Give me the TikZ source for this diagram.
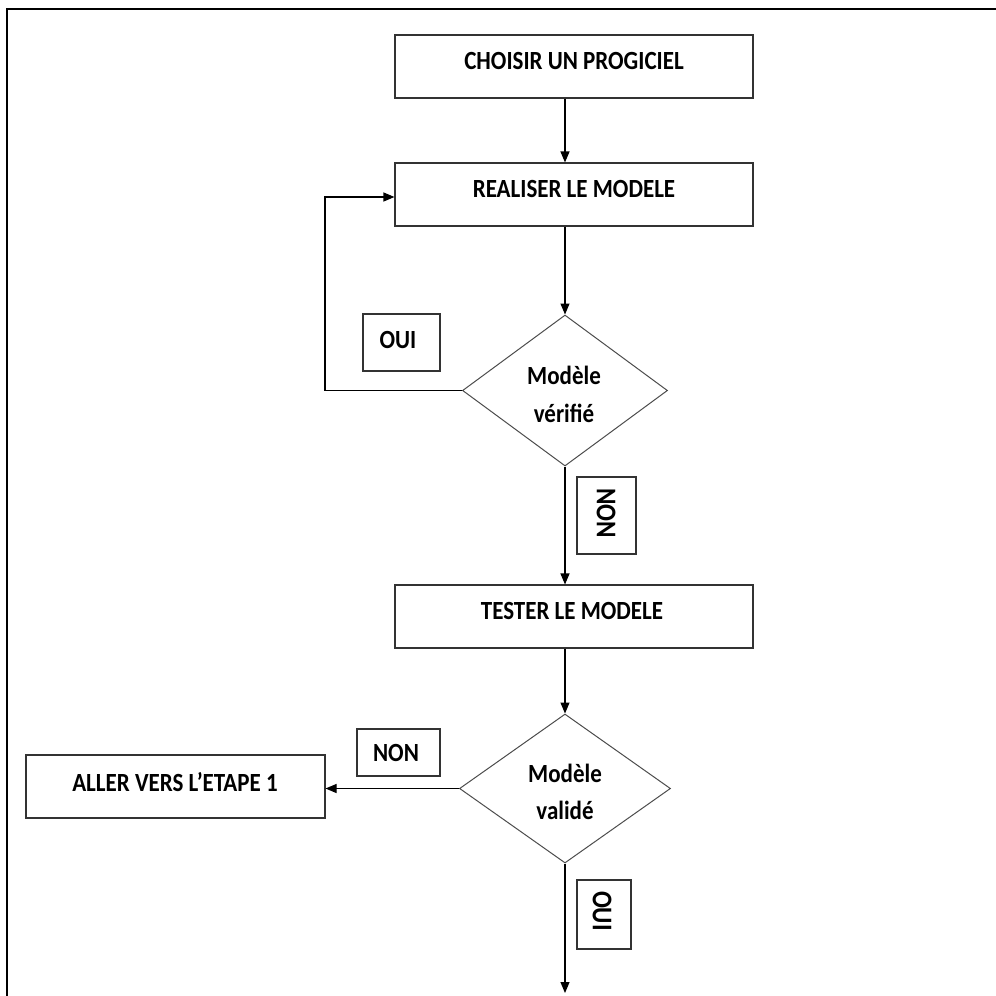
\documentclass[tikz,border=0pt]{standalone}
\usepackage{fontspec}
\setmainfont{Carlito}
\usetikzlibrary{arrows.meta,shapes.geometric}
% slightly condensed, tall lettering
\newcommand\tallword[1]{\scalebox{1}[1.14]{#1}}
\begin{document}
\begin{tikzpicture}[x=1pt,y=-1pt,
  line width=1.1pt,
  every node/.style={inner sep=0pt},
  stepbox/.style={draw=black!80, line width=1.1pt, minimum width=358pt, minimum height=63pt},
  labelbox/.style={draw=black!80, line width=1.1pt},
  decision/.style={draw=black!70, line width=1pt, diamond, aspect=1.35, minimum width=205pt, minimum height=151pt},
  flow/.style={draw=black, line width=1.1pt, -{Triangle[length=11pt,width=9pt]}},
  plain/.style={font=\fontsize{23}{27}\selectfont\bfseries},
  turned/.style={font=\fontsize{25}{29}\selectfont\bfseries, rotate=-90}
]
\useasboundingbox (0,0) rectangle (996,996);
% outer frame (top and left rules)
\draw[line width=2.4pt] (7,996) -- (7,9) -- (996,9);

% process boxes
\node[stepbox] (choisir) at (574,66.5) {};
\node[plain] (tchoisir) at (574,61) {\tallword{CHOISIR UN PROGICIEL}};
\node[stepbox] (realiser) at (574,194.5) {};
\node[plain] (trealiser) at (574,189) {\tallword{REALISER LE MODELE}};
\node[stepbox] (tester) at (574,616.5) {};
\node[plain] (ttester) at (572,611) {\tallword{TESTER LE MODELE}};
\node[draw=black!80, line width=1.1pt, minimum width=299pt, minimum height=63pt] (aller) at (175.5,786.5) {};
\node[plain] (taller) at (175,782) {\tallword{ALLER VERS L’ETAPE 1}};

% decisions
\node[decision] (verif) at (565,390.5) {};
\node[plain] (tverif1) at (564,375) {\tallword{Modèle}};
\node[plain] (tverif2) at (564,413) {\tallword{vérifié}};
\node[decision, minimum width=211pt, minimum height=149pt] (valid) at (565,788.5) {};
\node[plain] (tvalid1) at (565,773) {\tallword{Modèle}};
\node[plain] (tvalid2) at (565,810) {\tallword{validé}};

% answer labels
\node[labelbox, minimum width=77pt, minimum height=57pt] (oui1) at (401.5,342.5) {};
\node[plain] (toui1) at (398,340) {\tallword{OUI}};
\node[labelbox, minimum width=59pt, minimum height=77pt] (non1) at (606.5,515.5) {};
\node[turned] (tnon1) at (606,513) {\tallword{NON}};
\node[labelbox, minimum width=83pt, minimum height=47pt] (non2) at (398.5,752.5) {};
\node[plain] (tnon2) at (396,753) {\tallword{NON}};
\node[labelbox, minimum width=54pt, minimum height=69pt] (oui2) at (604,914.5) {};
\node[turned] (toui2) at (602,911) {\tallword{OUI}};

% connectors
\coordinate (loopcorner) at (325,390.5);
\coordinate (loopin) at (325,197);
\coordinate (finish) at (565,993);
\draw[flow] (choisir.south -| verif.north) -- (realiser.north -| verif.north);
\draw[flow] (realiser.south -| verif.north) -- (verif.north);
\draw[flow] (verif.west) -- (loopcorner) -- (loopin) -- (realiser.west |- loopin);
\draw[flow] (verif.south) -- (tester.north -| verif.south);
\draw[flow] (tester.south -| verif.south) -- (valid.north);
\draw[flow] (valid.west) -- (aller.east |- valid.west);
\draw[flow] (valid.south) -- (finish);
\end{tikzpicture}
\end{document}
